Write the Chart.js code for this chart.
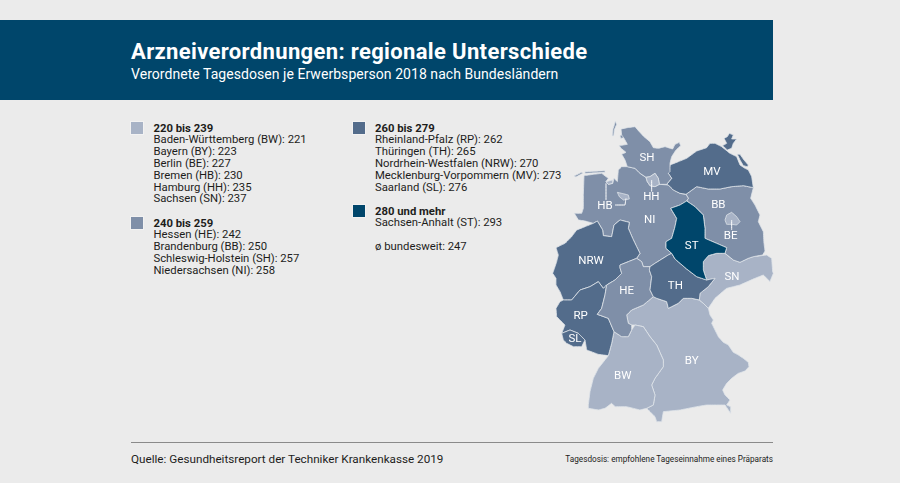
<!DOCTYPE html>
<html lang="de">
<head>
<meta charset="utf-8">
<title>Arzneiverordnungen: regionale Unterschiede</title>
<script src="https://cdn.jsdelivr.net/npm/chart.js@4/dist/chart.umd.min.js"></script>
<style>
  html, body { margin: 0; padding: 0; background: #ebebeb; }
  body { width: 900px; height: 483px; overflow: hidden; position: relative; font-family: Roboto, sans-serif; color: #1d1d1b; }
  .abs { position: absolute; white-space: nowrap; }
  #header { left: 0; top: 20px; width: 773px; height: 80px; background: #00466b; }
  #title { left: 131px; top: 37px; font-size: 22px; line-height: 30px; font-weight: 700; color: #fff; letter-spacing: .35px; }
  #subtitle { left: 131px; top: 64px; font-size: 14px; line-height: 20px; color: #fff; letter-spacing: .05px; }
  .row { font-size: 11.3px; line-height: 11px; letter-spacing: 0; }
  .row.head { font-weight: 700; }
  .swatch { width: 12px; height: 12px; box-shadow: 0 0 0 1px #f2f2f2; }
  #rule { left: 131px; top: 442px; width: 642px; height: 1px; background: #8a8a8a; }
  #source { left: 131px; top: 451px; font-size: 11.7px; line-height: 16px; }
  #note { right: 127px; top: 453px; font-size: 8.2px; line-height: 12px; }
  #map { position: absolute; left: 540px; top: 115px; }
</style>
</head>
<body>
<div class="abs" id="header"></div>
<div class="abs" id="title">Arzneiverordnungen: regionale Unterschiede</div>
<div class="abs" id="subtitle">Verordnete Tagesdosen je Erwerbsperson 2018 nach Bundesländern</div>
<div id="legend"></div>
<canvas id="map" width="240" height="310"></canvas>
<div class="abs" id="rule"></div>
<div class="abs" id="source">Quelle: Gesundheitsreport der Techniker Krankenkasse 2019</div>
<div class="abs" id="note">Tagesdosis: empfohlene Tageseinnahme eines Präparats</div>

<script>
// values
const classLabels = ['220 bis 239', '240 bis 259', '260 bis 279', '280 und mehr'];
const classMins = [220, 240, 260, 280];
const classColors = ['#a8b3c6', '#7f8fa8', '#536c8b', '#00466b'];
const stateNames = ['Baden-Württemberg', 'Bayern', 'Berlin', 'Bremen', 'Hamburg', 'Sachsen', 'Hessen', 'Brandenburg', 'Schleswig-Holstein', 'Niedersachsen', 'Rheinland-Pfalz', 'Thüringen', 'Nordrhein-Westfalen', 'Mecklenburg-Vorpommern', 'Saarland', 'Sachsen-Anhalt'];
const stateCodes = ['BW', 'BY', 'BE', 'HB', 'HH', 'SN', 'HE', 'BB', 'SH', 'NI', 'RP', 'TH', 'NRW', 'MV', 'SL', 'ST'];
const stateValues = [221, 223, 227, 230, 235, 237, 242, 250, 257, 258, 262, 265, 270, 273, 276, 293];
const averageValue = 247;

const outlineBE = [[555,315],[560,300],[575,292],[590,305],[600,320],[590,330],[575,328],[560,328]];
const outlineHH = [[318,187],[330,185],[345,175],[355,190],[358,208],[345,215],[330,212],[322,200]];
const outlineHB = [[232,232],[245,235],[265,240],[268,252],[250,255],[238,245]];
const outlineHB2 = [[198,200],[218,195],[218,205],[205,208]];
const outlineSL = [[65,655],[90,645],[115,655],[135,675],[125,695],[100,695],[80,685],[70,675]];
const outlineSH = [[243,42],[262,38],[285,35],[298,50],[312,65],[330,80],[340,98],[355,100],[375,95],[398,102],[405,88],[418,82],[422,92],[408,105],[395,125],[390,145],[390,170],[385,175],[395,190],[380,208],[358,208],[355,190],[345,175],[330,185],[318,187],[300,175],[285,160],[262,155],[255,135],[245,118],[258,112],[243,100],[238,92],[262,88],[252,70],[245,60]];
const outlineSH2 = [[226,18],[230,28],[223,45],[221,62],[217,62],[219,42],[223,30]];
const outlineSH3 = [[240,62],[250,58],[252,68],[242,70]];
const outlineMV = [[380,208],[395,190],[385,175],[390,150],[415,140],[440,130],[470,108],[500,98],[510,85],[525,85],[545,95],[570,115],[590,125],[600,150],[615,160],[625,165],[635,185],[640,218],[610,212],[575,215],[540,222],[505,222],[470,215],[438,238],[420,235],[400,225],[385,210]];
const outlineMV2 = [[548,92],[560,85],[552,70],[562,65],[568,55],[580,60],[575,72],[590,72],[580,85],[575,100],[562,105]];
const outlineMV3 = [[592,118],[600,118],[612,135],[625,150],[622,155],[610,152],[600,135]];
const outlineNI = [[132,182],[160,178],[185,175],[205,190],[198,200],[205,208],[218,205],[222,190],[232,200],[235,165],[245,155],[262,155],[285,160],[300,175],[318,187],[322,200],[330,212],[345,215],[358,208],[385,210],[400,225],[420,235],[438,238],[445,250],[440,258],[420,270],[392,280],[410,310],[405,335],[395,370],[378,380],[378,400],[395,415],[385,420],[345,445],[330,455],[310,455],[305,440],[290,430],[300,415],[290,395],[278,370],[265,340],[268,322],[240,315],[222,330],[215,365],[190,362],[188,345],[172,318],[160,325],[135,318],[115,315],[103,295],[125,295],[130,280],[130,240]];
const outlineNI2 = [[103,183],[125,172],[128,175],[108,186]];
const outlineNI3 = [[135,170],[195,167],[195,172],[135,175]];
const outlineBB = [[438,238],[470,215],[505,222],[540,222],[575,215],[610,212],[640,218],[632,250],[645,270],[660,300],[655,320],[670,350],[672,385],[675,408],[668,420],[640,425],[625,430],[600,442],[580,435],[555,415],[560,398],[530,385],[495,370],[495,340],[490,300],[465,275],[440,258],[445,250]];
const outlineST = [[440,258],[465,275],[490,300],[495,340],[495,370],[530,385],[560,398],[555,415],[530,415],[505,422],[490,440],[490,465],[500,495],[470,485],[440,462],[405,432],[395,415],[378,400],[378,380],[395,370],[405,335],[410,310],[392,280],[420,270]];
const outlineNRW = [[60,392],[75,385],[95,365],[110,345],[135,335],[160,325],[172,318],[188,345],[190,362],[215,365],[222,330],[240,315],[268,322],[265,340],[278,370],[290,395],[300,415],[290,430],[265,440],[240,450],[240,458],[245,475],[225,495],[200,510],[190,520],[175,500],[150,515],[120,525],[95,555],[70,555],[60,530],[48,510],[48,490],[38,475],[45,455],[50,440],[55,420],[48,398]];
const outlineRP = [[60,560],[70,555],[95,555],[120,525],[150,515],[175,500],[190,520],[200,510],[195,540],[185,580],[172,598],[205,610],[222,650],[215,685],[205,722],[175,718],[140,705],[135,675],[115,655],[90,645],[65,655],[75,630],[50,605],[48,580]];
const outlineHE = [[240,450],[265,440],[290,430],[305,440],[310,455],[330,455],[328,465],[335,485],[330,525],[340,545],[310,570],[275,585],[260,600],[265,625],[275,630],[275,645],[265,665],[245,665],[222,650],[205,610],[172,598],[185,580],[195,540],[200,510],[225,495],[245,475],[240,458]];
const outlineTH = [[330,455],[345,445],[385,420],[395,415],[405,432],[440,462],[470,485],[500,495],[525,490],[505,515],[480,535],[478,555],[455,550],[430,550],[415,565],[385,580],[380,560],[350,550],[340,545],[330,525],[335,485],[328,465]];
const outlineSN = [[490,440],[505,422],[530,415],[555,415],[580,435],[600,442],[625,430],[640,425],[680,420],[695,430],[698,470],[700,475],[690,500],[670,480],[645,490],[600,510],[560,520],[525,550],[505,580],[490,565],[478,555],[480,535],[505,515],[525,490],[500,495],[490,465]];
const outlineBY = [[260,600],[275,585],[310,570],[340,545],[350,550],[380,560],[385,580],[415,565],[430,550],[455,550],[478,555],[490,565],[505,580],[510,600],[520,615],[515,625],[525,645],[535,665],[550,682],[565,690],[580,712],[595,720],[610,730],[625,742],[627,755],[615,768],[595,775],[575,790],[560,805],[548,825],[555,840],[570,855],[560,870],[572,875],[572,895],[555,870],[530,870],[500,870],[470,875],[420,885],[370,890],[365,920],[350,920],[345,905],[330,890],[320,880],[340,870],[345,840],[335,810],[345,790],[370,755],[370,735],[350,690],[330,665],[310,635],[285,630],[275,630],[265,625]];
const outlineBW = [[222,650],[245,665],[265,665],[275,645],[285,630],[310,635],[330,665],[350,690],[370,735],[370,755],[345,790],[335,810],[345,840],[340,870],[320,880],[300,885],[260,875],[225,875],[215,865],[195,880],[175,885],[145,880],[145,870],[150,830],[160,790],[175,760],[205,722],[215,685]];

// leader lines of the small states
const leaderHH = [[335,195],[335,230]];
const leaderBE = [[575,315],[575,345]];
const leaderHB = [[198,205],[198,255]];
const leaderHB2 = [[258,250],[255,270],[225,270]];

const labelUnits = {
  SH: [321,130], MV: [516,172], HH: [334,246], BB: [535,269], HB: [195,273], NI: [329,316], BE: [572,362], ST: [455,393],
  NRW: [153,437], SN: [576,485], HE: [260,528], TH: [406,512], RP: [122,602], SL: [105,672], BY: [455,738], BW: [248,783]
};

// enclaves first, the first dataset ends up on top
const shapes = [
  ['BE', outlineBE], ['HH', outlineHH], ['HB', outlineHB], ['HB', outlineHB2], ['SL', outlineSL],
  ['SH', outlineSH], ['SH', outlineSH2], ['SH', outlineSH3], ['MV', outlineMV], ['MV', outlineMV2], ['MV', outlineMV3],
  ['ST', outlineST], ['TH', outlineTH], ['HE', outlineHE], ['RP', outlineRP], ['NRW', outlineNRW],
  ['NI', outlineNI], ['NI', outlineNI2], ['NI', outlineNI3], ['BB', outlineBB], ['SN', outlineSN], ['BW', outlineBW], ['BY', outlineBY]
];
const leaders = [leaderHH, leaderBE, leaderHB, leaderHB2];

function toPoints(pairs) {
  return pairs.map(p => ({x: p[0], y: p[1]}));
}

function colorFor(code) {
  const value = stateValues[stateCodes.indexOf(code)];
  let k = 0;
  classMins.forEach((min, i) => { if (value >= min) k = i; });
  return classColors[k];
}

let datasets = [];
leaders.forEach(l => {
  datasets.push({data: toPoints(l), showLine: true, pointRadius: 0, borderColor: '#ffffff', borderWidth: 1, fill: false, tension: 0.0001});
});
shapes.forEach(s => {
  const closed = s[1].concat([s[1][0]]);
  datasets.push({
    data: toPoints(closed),
    showLine: true,
    pointRadius: 0,
    borderColor: '#dfe4ea',
    borderWidth: 0.8,
    backgroundColor: colorFor(s[0]),
    fill: 'shape',
    tension: 0.0001
  });
});

const stateLabels = {
  id: 'stateLabels',
  afterDatasetsDraw(chart) {
    const ctx = chart.ctx;
    ctx.save();
    ctx.font = '11.5px Roboto';
    ctx.fillStyle = '#ffffff';
    ctx.textAlign = 'center';
    ctx.textBaseline = 'middle';
    stateCodes.forEach(code => {
      const pos = labelUnits[code];
      ctx.fillText(code, chart.scales.x.getPixelForValue(pos[0]), chart.scales.y.getPixelForValue(pos[1]));
    });
    ctx.restore();
  }
};

new Chart(document.getElementById('map').getContext('2d'), {
  type: 'scatter',
  data: {datasets: datasets},
  options: {
    responsive: false,
    animation: false,
    events: [],
    clip: false,
    layout: {padding: 0},
    plugins: {legend: {display: false}, tooltip: {enabled: false}},
    scales: {
      x: {type: 'linear', min: 0, max: 720, display: false},
      y: {type: 'linear', min: 0, max: 930, reverse: true, display: false}
    }
  },
  plugins: [stateLabels]
});

// legend blocks, placed by hand like the original layout
const legendColumns = [
  {left: 131, classIndex: 0, top: 122},
  {left: 131, classIndex: 1, top: 217},
  {left: 352.5, classIndex: 2, top: 122},
  {left: 352.5, classIndex: 3, top: 205}
];
const legend = document.getElementById('legend');
function addRow(text, left, top, bold) {
  const d = document.createElement('div');
  d.className = 'abs row' + (bold ? ' head' : '');
  d.style.left = left + 'px';
  d.style.top = top + 'px';
  d.textContent = text;
  legend.appendChild(d);
}
legendColumns.forEach(col => {
  const sw = document.createElement('div');
  sw.className = 'abs swatch';
  sw.style.left = col.left + 'px';
  sw.style.top = col.top + 'px';
  sw.style.background = classColors[col.classIndex];
  legend.appendChild(sw);
  const textLeft = col.left + 22.5;
  addRow(classLabels[col.classIndex], textLeft, col.top + 0.5, true);
  let row = 1;
  const min = classMins[col.classIndex];
  const max = classMins[col.classIndex + 1] || Infinity;
  stateNames.forEach((name, i) => {
    if (stateValues[i] >= min && stateValues[i] < max) {
      addRow(name + ' (' + stateCodes[i] + '): ' + stateValues[i], textLeft, col.top + 0.5 + row * 11.8, false);
      row++;
    }
  });
});
addRow('ø bundesweit: ' + averageValue, 375, 240.5, false);
</script>
</body>
</html>
